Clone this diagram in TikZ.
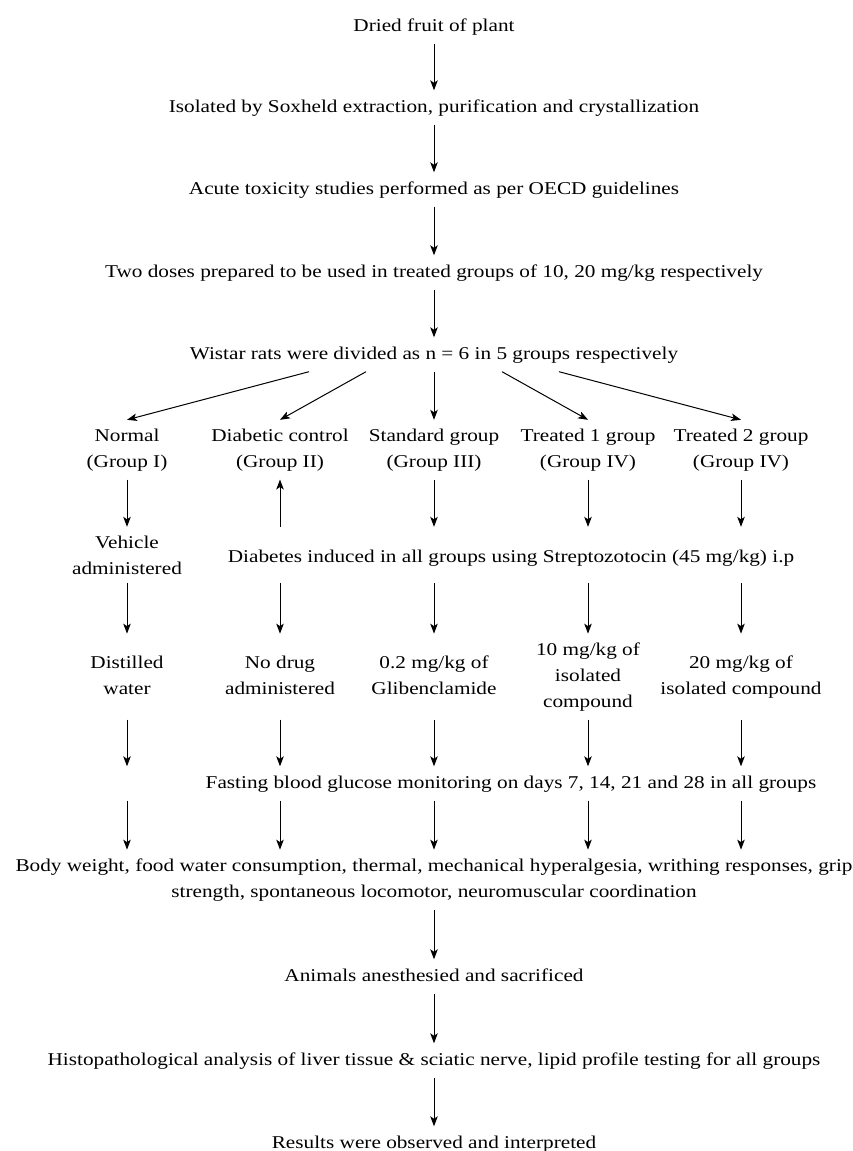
\documentclass[tikz,border=0pt]{standalone}
\usepackage{fontspec}
\setmainfont[FakeStretch=1.18]{Liberation Serif}
\usetikzlibrary{arrows.meta}
\begin{document}
\begin{tikzpicture}[x=1pt,y=-1pt,
  every node/.style={font=\fontsize{18}{26}\selectfont, align=center, inner xsep=0pt, inner ysep=8.5pt, anchor=base},
  one/.style={text height=13pt, text depth=4pt},
  arr/.style={-{Stealth[length=10pt,width=7.5pt,inset=2.5pt]}, line width=1pt}]
\useasboundingbox (0,0) rectangle (853,1151);
\node[one] (n1) at (434,31) {Dried fruit of plant};
\node[one] (n2) at (434,112) {Isolated by Soxheld extraction, purification and crystallization};
\node[one] (n3) at (434,194) {Acute toxicity studies performed as per OECD guidelines};
\node[one] (n4) at (434,277) {Two doses prepared to be used in treated groups of 10, 20 mg/kg respectively};
\node[one] (n5) at (434,359) {Wistar rats were divided as n = 6 in 5 groups respectively};
\node (g1) at (127,467) {Normal\\(Group I)};
\node (g2) at (280,467) {Diabetic control\\(Group II)};
\node (g3) at (434,467) {Standard group\\(Group III)};
\node (g4) at (588,467) {Treated 1 group\\(Group IV)};
\node (g5) at (741,467) {Treated 2 group\\(Group IV)};
\node (veh) at (127,574) {Vehicle\\administered};
\node[one] (diab) at (511,562) {Diabetes induced in all groups using Streptozotocin (45 mg/kg) i.p};
\node (a1) at (127,694) {Distilled\\water};
\node (a2) at (280,694) {No drug\\administered};
\node (a3) at (434,694) {0.2 mg/kg of\\Glibenclamide};
\node (a4) at (588,707) {10 mg/kg of\\isolated\\compound};
\node (a5) at (741,694) {20 mg/kg of\\isolated compound};
\node[one] (fast) at (511,788) {Fasting blood glucose monitoring on days 7, 14, 21 and 28 in all groups};
\node (body) at (434,897) {Body weight, food water consumption, thermal, mechanical hyperalgesia, writhing responses, grip\\strength, spontaneous locomotor, neuromuscular coordination};
\node[one] (anim) at (434,981) {Animals anesthesied and sacrificed};
\node[one] (hist) at (434,1065) {Histopathological analysis of liver tissue \& sciatic nerve, lipid profile testing for all groups};
\node[one] (res) at (434,1148) {Results were observed and interpreted};
\draw[arr] (n1.south) -- (n2.north);
\draw[arr] (n2.south) -- (n3.north);
\draw[arr] (n3.south) -- (n4.north);
\draw[arr] (n4.south) -- (n5.north);
\draw[arr] ([xshift=-125pt]n5.south) -- (g1.north);
\draw[arr] ([xshift=-68pt]n5.south) -- (g2.north);
\draw[arr] (n5.south) -- (g3.north);
\draw[arr] ([xshift=68pt]n5.south) -- (g4.north);
\draw[arr] ([xshift=125pt]n5.south) -- (g5.north);
\draw[arr] (g1.south) -- (veh.north);
\draw[arr] (g2.south |- veh.north) -- (g2.south);
\draw[arr] (g3.south) -- (g3.south |- veh.north);
\draw[arr] (g4.south) -- (g4.south |- veh.north);
\draw[arr] (g5.south) -- (g5.south |- veh.north);
\draw[arr] (veh.south) -- (veh.south |- a4.north);
\foreach \g in {g2,g3,g4,g5}{\draw[arr] (\g.south |- veh.south) -- (\g.south |- a4.north);}
\foreach \g in {g1,g2,g3,g4,g5}{
  \draw[arr] (\g.south |- a4.south) -- (\g.south |- fast.north);
  \draw[arr] (\g.south |- fast.south) -- (\g.south |- body.north);}
\draw[arr] (body.south) -- (anim.north);
\draw[arr] (anim.south) -- (hist.north);
\draw[arr] (hist.south) -- (res.north);
\end{tikzpicture}
\end{document}
